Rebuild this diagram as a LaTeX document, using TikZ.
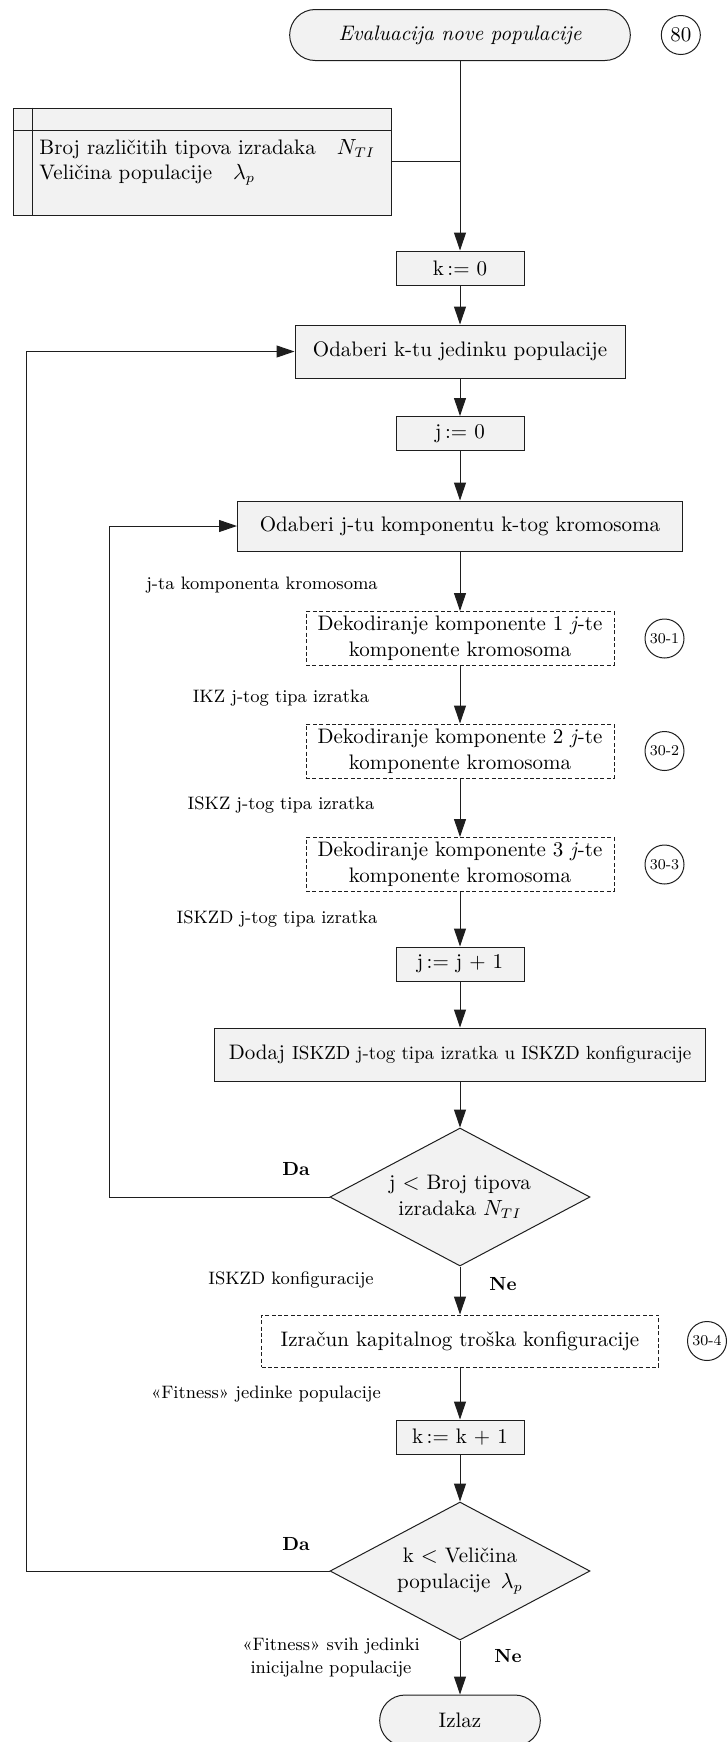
\documentclass[tikz,border=0pt]{standalone}
\usepackage{amsmath}
\usepackage{xcolor}
\definecolor{boxfill}{HTML}{F2F2F2}
\definecolor{linecol}{HTML}{1E1E1E}
\usetikzlibrary{arrows.meta,positioning,shapes.geometric,shapes.misc}

\begin{document}
\begin{tikzpicture}[x=0.5pt,y=-0.5pt,node distance=15pt,box/.style={draw=linecol,fill=boxfill,line width=0.5pt,minimum width=64pt,minimum height=17pt,inner sep=2pt,align=center,font=\fontsize{10.5}{13}\selectfont},subbox/.style={draw=linecol,dash pattern=on 2pt off 1.2pt,line width=0.5pt,minimum width=154pt,minimum height=27pt,inner sep=2pt,align=center,font=\fontsize{10.5}{13}\selectfont},term/.style={rounded rectangle,draw=linecol,fill=boxfill,line width=0.5pt,minimum height=25.5pt,font=\fontsize{10.5}{13}\selectfont},dec/.style={diamond,draw=linecol,fill=boxfill,line width=0.5pt,aspect=1.9,minimum width=130pt,minimum height=69pt,inner sep=0pt,align=center,font=\fontsize{10.5}{13}\selectfont},ref/.style={circle,draw=linecol,line width=0.5pt,minimum size=19.5pt,inner sep=0pt,font=\fontsize{7.5}{8}\selectfont},lbl/.style={align=center,font=\fontsize{9}{11.5}\selectfont},yn/.style={font=\bfseries\fontsize{9.5}{12}\selectfont},arr/.style={-{Triangle[length=9pt,width=6pt]},linecol,line width=0.5pt},ln/.style={linecol,line width=0.5pt}]
\useasboundingbox (0,0) rectangle (728,1742);
% glavni tok
\node[term,minimum width=177pt,font=\itshape\fontsize{10.5}{13}\selectfont] (start) at (460,35) {Evaluacija nove populacije};
\node[ref,right=15pt of start,font=\fontsize{10.5}{13}\selectfont] (c80) {80};
\node[draw=linecol,fill=boxfill,line width=0.5pt,minimum width=189pt,minimum height=53.5pt,inner sep=0pt] (ulaz) at (202,161.5) {};
\node[anchor=north west,align=left,inner sep=0pt,font=\fontsize{10.5}{12.5}\selectfont] (ulaztxt) at (39,139) {Broj različitih tipova izradaka\quad$N_{TI}$\\Veličina populacije\quad$\lambda_p$};
\node[box] (k0) at (460,268) {k\,:= 0};
\node[box,minimum width=165pt,minimum height=26.5pt] (odk) at (460,351.5) {Odaberi k-tu jedinku populacije};
\node[box] (j0) at (460,433.5) {j\,:= 0};
\node[box,minimum width=222.5pt,minimum height=25pt] (odj) at (460,526) {Odaberi j-tu komponentu k-tog kromosoma};
\node[subbox] (dek1) at (460,638.5) {Dekodiranje komponente 1 \textit{j}-te\\komponente kromosoma};
\node[ref,right=15pt of dek1] (c301) {30-1};
\node[subbox] (dek2) at (460,751) {Dekodiranje komponente 2 \textit{j}-te\\komponente kromosoma};
\node[ref,right=15pt of dek2] (c302) {30-2};
\node[subbox] (dek3) at (460,864.5) {Dekodiranje komponente 3 \textit{j}-te\\komponente kromosoma};
\node[ref,right=15pt of dek3] (c303) {30-3};
\node[box] (jj) at (460,964) {j\,:= j + 1};
\node[box,minimum width=245.5pt,minimum height=26.5pt] (dodaj) at (460,1054.5) {Dodaj {\fontsize{9.5}{12}\selectfont ISKZD j-tog tipa izratka u ISKZD konfiguracije}};
\node[dec] (dia1) at (460,1197) {j $<$ Broj tipova\\izradaka $N_{TI}$};
\node[subbox,minimum width=198.5pt,minimum height=26pt] (izr) at (460,1341) {Izračun kapitalnog troška konfiguracije};
\node[ref,right=14pt of izr] (c304) {30-4};
\node[box] (kk) at (460,1437) {k\,:= k + 1};
\node[dec] (dia2) at (460,1571) {k $<$ Veličina\\populacije\,\ $\lambda_p$};
\node[term,minimum width=87pt] (izlaz) at (460,1720.5) {Izlaz};
% oznake tokova
\node[lbl] (lblj) at (262,585) {j-ta komponenta kromosoma};
\node[lbl] (lblikz) at (281,698) {IKZ j-tog tipa izratka};
\node[lbl] (lbliskz) at (281,805) {ISKZ j-tog tipa izratka};
\node[lbl] (lbliskzd) at (277,919) {ISKZD j-tog tipa izratka};
\node[lbl] (lblkonf) at (291,1280) {ISKZD konfiguracije};
\node[lbl] (lblfit) at (266,1394) {«Fitness» jedinke populacije};
\node[lbl] (lblsvi) at (331,1658) {«Fitness» svih jedinki\\inicijalne populacije};
\node[yn] (da1) at (296,1169) {Da};\node[yn] (ne1) at (503,1284) {Ne};
\node[yn] (da2) at (296,1544) {Da};\node[yn] (ne2) at (508,1656) {Ne};
\coordinate (petj) at (109,526);\coordinate (petk) at (26,351.5);
% strelice
\draw[ln] ([xshift=10pt]ulaz.north west)--([xshift=10pt]ulaz.south west);\draw[ln] ([yshift=-11.5pt]ulaz.north west)--([yshift=-11.5pt]ulaz.north east);
\draw[ln] (ulaz.east)--(ulaz.east -| start.south);
\draw[arr] (start.south)--(k0.north);\draw[arr] (k0.south)--(odk.north);\draw[arr] (odk.south)--(j0.north);\draw[arr] (j0.south)--(odj.north);
\draw[arr] (odj.south)--(dek1.north);\draw[arr] (dek1.south)--(dek2.north);\draw[arr] (dek2.south)--(dek3.north);\draw[arr] (dek3.south)--(jj.north);
\draw[arr] (jj.south)--(dodaj.north);\draw[arr] (dodaj.south)--(dia1.north);\draw[arr] (dia1.south)--(izr.north);\draw[arr] (izr.south)--(kk.north);
\draw[arr] (kk.south)--(dia2.north);\draw[arr] (dia2.south)--(izlaz.north);
\draw[arr] (dia1.west)--(dia1.west -| petj)--(petj)--(odj.west);
\draw[arr] (dia2.west)--(dia2.west -| petk)--(petk)--(odk.west);
\end{tikzpicture}
\end{document}
